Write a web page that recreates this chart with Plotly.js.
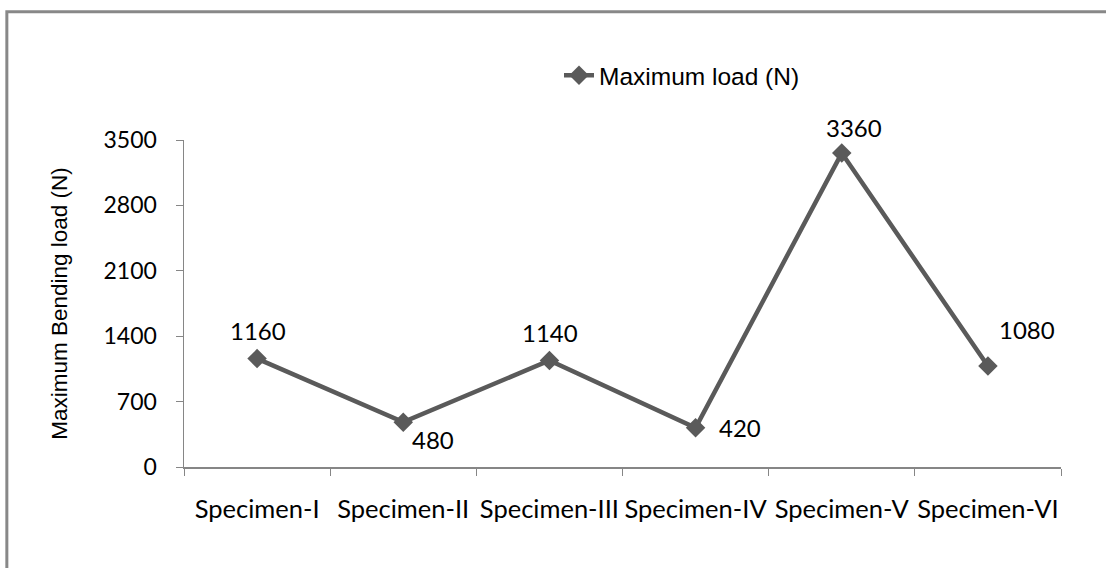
<!DOCTYPE html>
<html>
<head>
<meta charset="utf-8">
<script src="https://cdn.plot.ly/plotly-3.0.1.min.js"></script>
<style>html,body{margin:0;padding:0;background:#fff;}</style>
</head>
<body>
<div id="chart" style="width:1106px;height:568px;"></div>
<script>
const categories = ["Specimen-I", "Specimen-II", "Specimen-III", "Specimen-IV", "Specimen-V", "Specimen-VI"];
const maxLoad = [1160, 480, 1140, 420, 3360, 1080];
const seriesName = "Maximum load (N)";
const yTicks = [0, 700, 1400, 2100, 2800, 3500];

const labelShiftX = [1, 30, 1, 44, 12, 39];
const labelShiftY = [28, -17, 28, 0, 26, 37];

const fontFam = "Lato, 'Open Sans', sans-serif";
const lineColor = "#5a5a5a";
const axisColor = "#868686";

const trace = {
  x: categories,
  y: maxLoad,
  type: "scatter",
  mode: "lines+markers",
  name: seriesName,
  line: {color: lineColor, width: 4.5},
  marker: {symbol: "diamond", size: 15, color: lineColor},
  showlegend: true
};

const annotations = categories.map((c, i) => ({
  x: c, y: maxLoad[i], xref: "x", yref: "y",
  text: String(maxLoad[i]), showarrow: false,
  xshift: labelShiftX[i], yshift: labelShiftY[i],
  font: {family: fontFam, size: 24, color: "#000"}
}));

const layout = {
  width: 1106, height: 568,
  margin: {l: 184, r: 45, t: 140, b: 101},
  paper_bgcolor: "#fff", plot_bgcolor: "#fff",
  font: {family: fontFam, size: 23, color: "#000"},
  showlegend: true,
  legend: {x: 0.4276, xanchor: "left", y: 1.198, yanchor: "middle", orientation: "h",
           font: {family: "'Liberation Sans', Arial, sans-serif", size: 24.5, color: "#000"},
           bgcolor: "rgba(0,0,0,0)"},
  xaxis: {
    type: "category", range: [-0.5, categories.length - 0.5], autorange: false,
    tickson: "boundaries", ticks: "outside", ticklen: 7, tickangle: 0,
    tickcolor: axisColor, showline: true, linecolor: axisColor, linewidth: 1.5,
    showgrid: false, zeroline: false, ticklabelstandoff: 19,
    tickfont: {family: fontFam, size: 25.5, color: "#000"}
  },
  yaxis: {
    range: [0, 3500], autorange: false, tickvals: yTicks, ticktext: yTicks.map(String),
    ticks: "outside", ticklen: 7, tickcolor: axisColor,
    showline: true, linecolor: axisColor, linewidth: 1.5,
    showgrid: false, zeroline: false, ticklabelstandoff: 14,
    tickfont: {family: fontFam, size: 23, color: "#000"},
    title: {text: "Maximum Bending load (N)", standoff: 29,
            font: {family: "'Liberation Sans', Arial, sans-serif", size: 22.5, color: "#000"}}
  },
  annotations: annotations,
  shapes: [{
    type: "rect", xref: "paper", yref: "paper",
    x0: -0.202, x1: 1.06, y0: -0.35, y1: 1.392,
    line: {color: "#888888", width: 3}, fillcolor: "rgba(0,0,0,0)", layer: "below"
  }]
};

Plotly.newPlot("chart", [trace], layout, {displayModeBar: false, staticPlot: true});
</script>
</body>
</html>
